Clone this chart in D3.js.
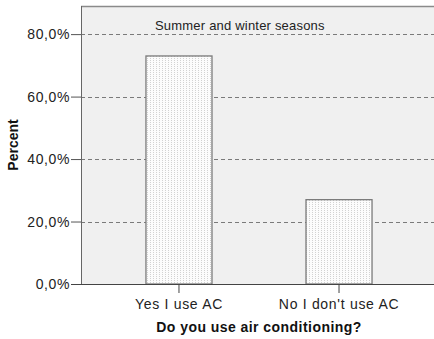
<!DOCTYPE html>
<html><head><meta charset="utf-8">
<script src="https://cdn.jsdelivr.net/npm/d3@7"></script>
<style>body{margin:0;background:#fff}svg{display:block}text{font-family:"Liberation Sans",Arial,sans-serif}</style>
</head><body><svg id="c" width="434" height="339"></svg>
<script>
const categories = ["Yes I use AC", "No I don't use AC"];
const percents = [73.0, 27.0];
const yTicks = [0, 20, 40, 60, 80];
const title = "Summer and winter seasons";
const xTitle = "Do you use air conditioning?";
const yTitle = "Percent";

const svg = d3.select("#c");
const L = 81, R = 437, T = 6, B = 284;
const y = d3.scaleLinear().domain([0, 89]).range([B, T]);
const x = d3.scaleBand().domain(categories).range([L, R]).paddingInner(0.5875).paddingOuter(0.406);
const loc = d3.formatLocale({decimal: ",", thousands: ".", grouping: [3], currency: ["", ""]});
const fmt = v => loc.format(".1f")(v) + "%";

const defs = svg.append("defs");
const pat = defs.append("pattern").attr("id", "dots").attr("patternUnits", "userSpaceOnUse")
  .attr("x", 0).attr("y", 0).attr("width", 3).attr("height", 2);
pat.append("rect").attr("width", 3).attr("height", 2).attr("fill", "#fcfcfc");
pat.append("rect").attr("x", 0).attr("y", 0).attr("width", 1).attr("height", 1).attr("fill", "#d2d2d2");

// plot background
svg.append("rect").attr("x", L).attr("y", T).attr("width", R - L).attr("height", B - T).attr("fill", "#f0f0f0");
// top border
svg.append("line").attr("x1", L).attr("x2", R).attr("y1", T + 0.5).attr("y2", T + 0.5).attr("stroke", "#8a8a8a").attr("stroke-width", 1.5);

// gridlines
svg.append("g").selectAll("line").data(yTicks.filter(d => d > 0)).join("line")
  .attr("x1", L).attr("x2", R).attr("y1", d => Math.round(y(d)) + 0.5).attr("y2", d => Math.round(y(d)) + 0.5)
  .attr("stroke", "#7a7a7a").attr("stroke-dasharray", "4,3");

// bars
svg.append("g").selectAll("rect").data(categories).join("rect")
  .attr("x", d => x(d)).attr("width", x.bandwidth())
  .attr("y", (d, i) => y(percents[i])).attr("height", (d, i) => B - y(percents[i]))
  .attr("fill", "url(#dots)").attr("stroke", "#7a7a7a").attr("stroke-width", 1.3);

// y axis
const yAxis = d3.axisLeft(y).tickValues(yTicks).tickFormat(fmt).tickSize(10).tickSizeOuter(0);
const gy = svg.append("g").attr("transform", `translate(${L},0)`).call(yAxis);
gy.select(".domain").attr("stroke", "#666").attr("d", `M0.5,${T}V${B}`);
gy.selectAll(".tick line").attr("stroke", "#555");
gy.selectAll(".tick text").attr("font-size", 14).attr("letter-spacing", 0.6).attr("fill", "#222").attr("x", -11).attr("font-family", "Liberation Sans, Arial, sans-serif");

// x axis
const xAxis = d3.axisBottom(x).tickSize(9).tickSizeOuter(0);
const gx = svg.append("g").attr("transform", `translate(0,${B})`).call(xAxis);
gx.select(".domain").attr("stroke", "#444").attr("d", `M${L - 10},0.5H${R}`);
gx.selectAll(".tick line").attr("stroke", "#444");
gx.selectAll(".tick text").attr("font-size", 14).attr("letter-spacing", 0.7).attr("fill", "#222").attr("y", 15).attr("font-family", "Liberation Sans, Arial, sans-serif");

// titles
svg.append("text").attr("x", 155).attr("y", 30).attr("font-size", 13).attr("letter-spacing", 0.2).attr("fill", "#222").text(title);
svg.append("text").attr("x", 259).attr("y", 332).attr("text-anchor", "middle").attr("font-size", 14).attr("letter-spacing", 0.45).attr("font-weight", "bold").attr("fill", "#111").text(xTitle);
svg.append("text").attr("transform", `translate(18,${(T + B) / 2}) rotate(-90)`).attr("text-anchor", "middle").attr("font-size", 14).attr("font-weight", "bold").attr("fill", "#111").text(yTitle);
</script></body></html>
